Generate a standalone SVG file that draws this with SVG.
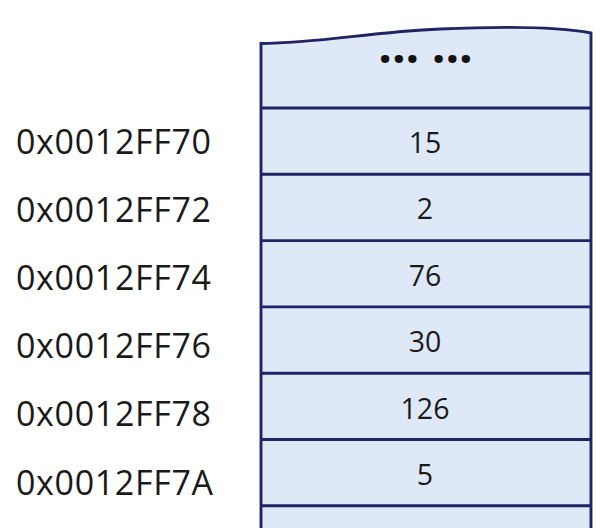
<svg xmlns="http://www.w3.org/2000/svg" width="600" height="528" viewBox="0 0 600 528">
<style>
.cell{fill:#dfe8f6;stroke:none}
.ln{stroke:#1f2466;stroke-width:2.9;fill:none}
.addr{font-family:"Open Sans","Liberation Sans",sans-serif;font-size:34px;fill:#1a1a1a}
.val{font-family:"Open Sans","Liberation Sans",sans-serif;font-size:28.5px;fill:#1a1a1a;text-anchor:middle}
.dots{font-family:"Open Sans","Liberation Sans",sans-serif;font-size:48px;font-weight:bold;fill:#111;text-anchor:middle}
</style>
<rect width="600" height="528" fill="#ffffff"/>
<g id="stack">
<path class="cell" d="M261,43.5 C320,43 370,32 440,29 C510,26 560,27 591,33 L591,530 L261,530 Z"/>
<path class="ln" d="M261,530 L261,43.5 C320,43 370,32 440,29 C510,26 560,27 591,33 L591,530"/>
</g>
<g id="rowlines">
<line class="ln" x1="261" y1="108" x2="591" y2="108"/>
<line class="ln" x1="261" y1="174.3" x2="591" y2="174.3"/>
<line class="ln" x1="261" y1="240.6" x2="591" y2="240.6"/>
<line class="ln" x1="261" y1="306.9" x2="591" y2="306.9"/>
<line class="ln" x1="261" y1="373.2" x2="591" y2="373.2"/>
<line class="ln" x1="261" y1="439.5" x2="591" y2="439.5"/>
<line class="ln" x1="261" y1="505.8" x2="591" y2="505.8"/>
</g>
<g id="cell-top"><text class="dots" x="425.5" y="63">... ...</text></g>
<g id="cell-70"><text class="val" x="425" y="152.5">15</text></g>
<g id="cell-72"><text class="val" x="425" y="219">2</text></g>
<g id="cell-74"><text class="val" x="425" y="285.5">76</text></g>
<g id="cell-76"><text class="val" x="425" y="352">30</text></g>
<g id="cell-78"><text class="val" x="425" y="418.5">126</text></g>
<g id="cell-7A"><text class="val" x="425" y="484.5">5</text></g>
<g id="labels">
<text class="addr" x="16" y="153.5" textLength="195">0x0012FF70</text>
<text class="addr" x="16" y="221.7" textLength="195">0x0012FF72</text>
<text class="addr" x="16" y="289.9" textLength="195">0x0012FF74</text>
<text class="addr" x="16" y="358.1" textLength="195">0x0012FF76</text>
<text class="addr" x="16" y="426.3" textLength="195">0x0012FF78</text>
<text class="addr" x="16" y="494.5" textLength="197">0x0012FF7A</text>
</g>
</svg>
